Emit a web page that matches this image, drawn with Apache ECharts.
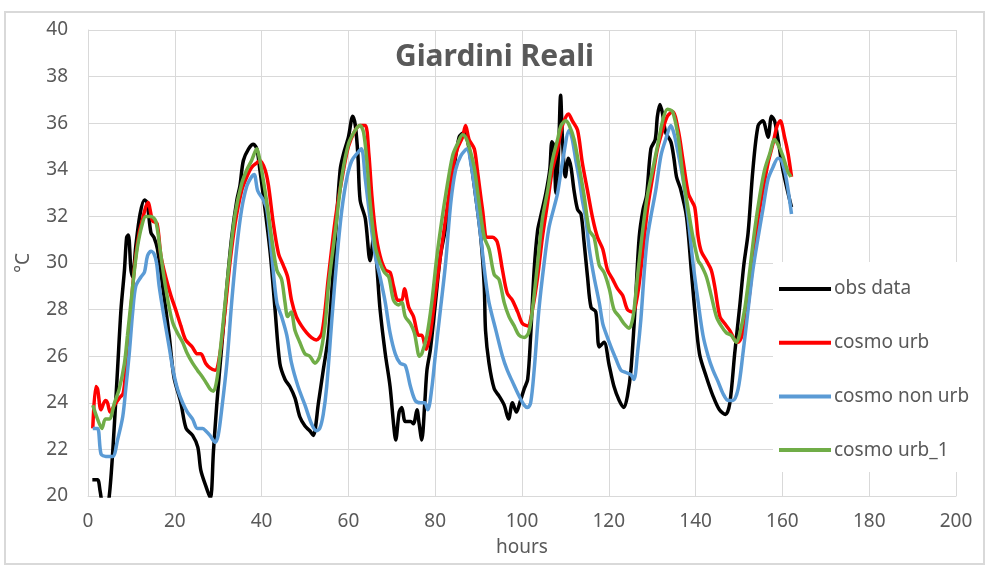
<!DOCTYPE html>
<html>
<head>
<meta charset="utf-8">
<title>Giardini Reali</title>
<script src="https://cdn.jsdelivr.net/npm/echarts@6/dist/echarts.min.js"></script>
<style>
  html, body { margin: 0; padding: 0; background: #ffffff; }
  #chart { width: 989px; height: 570px; }
</style>
</head>
<body>
<div id="chart"></div>
<script>
// Hourly air temperature at Giardini Reali: observations vs. COSMO runs
const seriesNames = ['obs data', 'cosmo urb', 'cosmo non urb', 'cosmo urb_1'];
const seriesColors = ['#000000', '#ff0000', '#5b9bd5', '#70ad47'];

const xTicks = [0, 20, 40, 60, 80, 100, 120, 140, 160, 180, 200];
const yTicks = [20, 22, 24, 26, 28, 30, 32, 34, 36, 38, 40];

const obsHours = [1.0,2.2,2.8,3.5,4.3,4.9,5.7,6.8,7.6,8.4,8.9,9.3,9.9,10.3,11.0,12.0,13.0,13.6,14.5,15.2,16.0,17.5,18.7,19.8,21.4,22.6,24.1,25.3,26.0,27.2,28.2,28.9,29.7,30.8,32.0,33.1,34.3,35.0,35.8,37.0,38.1,38.9,39.6,40.8,42.0,43.1,44.2,45.4,46.5,47.7,48.8,50.0,51.1,51.9,53.1,54.2,55.4,57.0,58.1,58.9,60.0,61.0,61.6,62.2,62.7,63.9,65.0,65.8,67.3,68.5,69.6,70.4,70.9,71.7,72.3,73.1,74.3,75.0,75.8,76.3,76.9,77.6,78.1,78.9,80.0,81.2,82.5,84.0,85.5,86.7,87.4,88.2,89.3,90.5,91.3,91.6,92.4,93.6,94.7,95.9,96.9,97.8,98.7,99.5,100.5,101.3,102.0,102.8,103.6,104.3,105.5,106.4,106.9,107.4,107.8,108.4,108.9,109.3,110.0,110.7,111.3,112.0,112.8,113.6,114.3,115.1,115.9,117.0,117.8,118.9,120.1,121.2,122.4,123.5,124.3,125.1,126.1,127.0,127.9,128.7,129.7,130.7,131.2,131.8,132.4,133.1,134.3,135.0,135.6,136.5,137.9,139.0,139.8,140.9,142.5,144.0,145.5,146.9,147.9,149.0,150.2,151.1,152.1,153.2,154.4,155.5,156.7,157.5,158.2,159.0,160.1,161.3,162.1];
const obsTemps = [20.7,20.7,20.2,19.6,19.6,20.0,21.9,25.4,28.0,29.7,31.1,31.2,29.7,29.4,30.7,32.1,32.7,32.6,31.3,31.1,30.6,28.6,26.9,25.1,24.0,22.9,22.6,22.1,21.1,20.4,19.9,21.9,24.0,26.4,29.0,31.1,32.7,33.3,34.4,34.9,35.1,34.9,34.0,32.3,30.4,28.0,25.7,25.0,24.7,24.2,23.4,23.0,22.8,22.6,24.0,25.4,26.9,31.1,34.0,34.7,35.4,36.3,35.9,34.6,32.7,31.9,30.1,31.1,28.0,26.1,24.7,23.1,22.4,23.6,23.8,23.2,23.2,23.1,23.7,23.1,22.4,24.0,25.4,26.3,28.2,30.3,31.6,33.6,35.4,35.6,35.3,34.4,32.9,31.1,29.0,27.1,25.7,24.6,24.3,23.9,23.3,24.0,23.6,24.0,24.6,25.0,26.9,29.7,31.4,32.0,33.0,34.0,35.2,35.0,33.0,34.7,37.2,35.4,33.7,34.5,34.1,33.1,32.3,32.1,30.9,29.4,28.1,27.9,26.4,26.6,25.6,24.7,24.1,23.8,24.3,25.4,28.2,31.1,32.3,32.9,34.9,35.3,36.3,36.8,36.4,35.6,35.2,34.5,33.7,33.2,32.0,29.7,28.0,26.1,25.1,24.3,23.7,23.5,24.0,26.1,28.2,29.9,31.3,34.0,35.9,36.1,35.4,36.3,36.1,35.3,34.0,33.0,32.4];

const urbHours = [1.1,1.8,2.2,3.0,4.0,4.5,5.1,6.1,7.2,8.1,8.7,9.5,10.3,11.0,11.8,12.6,13.3,13.9,14.3,14.9,15.9,16.8,17.9,19.1,20.2,21.4,22.5,24.0,25.2,26.0,27.1,28.1,29.3,30.4,31.6,32.7,33.9,35.4,36.6,37.7,38.9,39.6,40.8,41.6,42.7,43.9,45.0,46.0,46.9,48.0,49.2,50.4,51.5,52.6,53.9,55.4,57.0,58.5,60.0,61.6,62.7,63.9,64.7,65.4,66.2,67.3,68.5,69.6,70.4,71.4,72.3,72.9,73.9,75.0,76.2,76.9,77.9,78.9,80.0,81.2,82.4,84.0,85.1,86.3,87.0,87.8,89.0,89.7,90.9,92.0,93.2,94.3,95.5,96.6,97.8,99.0,100.1,101.3,102.4,103.6,104.7,105.9,107.0,108.2,109.3,110.7,111.6,112.8,113.9,115.1,116.3,117.4,118.6,119.7,120.9,122.0,123.2,124.3,125.5,126.6,127.8,128.9,130.1,131.2,132.4,133.5,134.7,136.0,137.1,138.3,139.0,139.8,140.6,141.3,142.5,143.6,144.4,145.6,146.7,147.9,149.0,149.8,150.9,152.1,153.2,154.4,155.5,156.7,157.8,158.8,159.5,160.5,161.3,162.1];
const urbTemps = [22.9,24.7,24.6,23.7,24.1,24.0,23.6,23.9,24.2,24.4,25.4,27.1,29.0,30.3,31.3,31.9,32.4,32.6,32.3,31.8,31.7,30.3,29.4,28.6,28.0,27.3,26.7,26.4,26.1,26.1,25.7,25.5,25.4,26.1,28.0,30.0,31.7,33.1,33.7,34.1,34.3,34.4,34.0,33.3,31.7,30.4,29.9,29.4,28.4,27.7,27.3,27.0,26.8,26.7,27.0,29.4,31.9,33.6,35.0,35.7,35.9,35.9,34.7,32.9,31.4,30.3,29.7,29.6,29.0,28.4,28.4,28.9,28.1,27.7,26.9,26.9,26.3,27.0,28.6,30.3,31.9,34.0,34.9,35.4,35.9,35.3,34.9,34.0,32.3,31.1,31.1,30.9,29.7,28.7,28.4,27.9,27.4,27.3,28.0,29.4,31.1,32.6,34.0,34.9,35.9,36.4,36.1,35.7,34.3,33.1,31.9,31.1,30.6,29.7,29.3,28.9,28.6,28.0,27.9,28.6,30.4,32.3,33.7,34.9,35.7,36.3,36.5,35.7,34.4,33.0,32.7,32.4,31.1,30.5,30.1,29.7,29.0,27.7,27.4,27.1,26.7,26.6,27.0,28.2,30.0,31.9,33.1,34.3,35.1,35.9,36.1,35.4,34.7,33.7];

const nonUrbHours = [1.1,2.2,3.0,4.1,5.7,6.8,8.0,8.7,9.5,10.3,11.0,12.2,13.0,13.7,14.5,15.2,15.8,16.4,17.5,18.7,19.6,20.6,21.8,22.9,24.1,25.2,26.4,27.1,28.1,29.3,30.0,30.8,32.0,33.1,34.3,35.4,36.6,37.7,38.3,39.1,40.4,41.2,42.3,43.5,44.6,45.8,46.9,48.4,50.0,51.5,52.6,53.4,54.2,55.0,56.2,57.4,58.5,59.7,60.8,62.0,63.0,63.9,65.0,66.2,67.3,68.5,69.6,70.8,71.9,73.1,74.3,75.4,76.6,77.6,78.3,79.2,80.0,81.2,82.4,83.6,84.7,85.9,87.4,88.2,89.3,90.5,91.6,92.4,94.0,95.5,96.6,97.8,99.3,100.5,101.3,102.0,102.8,103.9,105.1,106.2,107.4,108.2,109.3,110.9,111.6,112.4,113.2,113.9,114.7,115.5,116.6,117.8,118.6,119.3,120.5,121.6,122.8,123.9,125.1,125.8,126.6,127.4,128.2,128.9,129.7,130.8,132.0,133.1,134.3,135.1,136.0,137.1,138.3,139.4,140.6,141.7,142.9,144.0,145.2,146.3,147.5,148.6,149.8,150.9,152.1,153.2,154.4,155.5,156.7,157.8,159.0,159.8,160.9,162.1];
const nonUrbTemps = [22.9,22.9,21.8,21.7,21.7,22.4,23.4,24.6,26.1,27.9,29.0,29.4,29.6,30.3,30.5,30.4,30.0,29.0,27.7,26.4,25.4,24.6,24.0,23.6,23.3,22.9,22.9,22.8,22.6,22.3,22.6,23.7,25.7,28.3,30.7,32.3,33.3,33.7,33.8,33.1,32.7,32.3,30.4,28.3,27.7,26.9,25.7,24.7,23.9,23.1,22.8,22.9,23.5,24.7,27.6,30.3,32.3,33.7,34.4,34.7,34.9,33.6,31.9,30.3,29.4,28.3,27.0,26.1,25.7,25.6,24.7,24.1,24.0,24.0,23.7,24.6,26.0,28.0,30.0,32.6,34.0,34.6,34.9,34.3,32.9,31.1,29.3,28.3,27.1,26.0,25.4,24.9,24.3,23.9,23.8,24.0,25.4,28.0,30.0,31.5,32.4,33.0,34.3,35.7,35.3,34.4,33.6,32.7,31.9,30.6,29.4,28.3,27.4,27.0,26.4,25.9,25.4,25.3,25.2,25.0,26.1,27.6,29.7,31.1,32.0,33.1,34.6,35.3,35.9,35.5,34.7,33.6,31.9,30.0,28.3,26.9,26.0,25.4,24.9,24.4,24.1,24.1,24.6,26.1,28.0,29.7,31.1,32.3,33.6,34.1,34.5,34.4,33.6,32.1];

const urb1Hours = [1.1,2.2,3.2,4.0,4.9,6.1,7.2,8.4,9.1,9.9,10.7,11.4,12.4,13.3,14.5,15.6,16.6,17.5,18.7,19.6,20.6,21.8,22.9,24.1,25.2,26.4,27.1,28.1,28.9,29.7,30.4,31.6,32.7,33.9,35.4,36.6,37.7,38.9,39.4,40.0,41.2,42.3,43.5,44.6,45.4,46.0,46.8,47.7,48.8,50.0,51.1,52.3,53.4,54.6,55.4,57.0,58.5,60.0,61.6,62.7,63.5,64.3,65.0,66.2,67.3,68.3,69.3,70.4,71.5,72.3,73.1,74.3,75.2,75.8,76.3,76.9,78.1,79.2,80.4,81.5,82.4,84.0,85.1,86.3,87.0,87.8,89.0,90.1,91.3,92.4,93.6,94.7,95.9,97.0,98.2,99.3,100.5,101.5,102.4,103.6,104.7,105.9,107.0,108.2,109.0,110.1,110.9,112.0,113.2,114.3,115.5,116.6,117.8,118.9,120.1,121.2,122.4,123.5,124.7,125.6,126.6,127.8,128.9,130.1,131.2,132.4,133.5,134.7,136.0,137.1,138.3,139.4,140.6,141.3,142.5,143.6,144.8,145.9,147.1,148.2,149.4,150.1,151.3,152.5,153.6,154.8,155.9,157.1,158.2,159.2,160.1,161.3,162.0];
const urb1Temps = [23.9,23.3,22.9,23.3,23.3,24.0,24.6,25.7,26.9,28.3,29.7,30.7,31.6,32.0,32.0,31.8,30.6,29.4,28.1,27.4,27.0,26.6,26.1,25.7,25.4,25.1,24.9,24.6,24.5,25.0,26.1,28.3,30.3,32.1,33.4,34.0,34.4,34.9,34.6,34.0,32.6,31.1,29.7,29.3,28.3,27.7,27.9,27.1,26.6,26.1,26.0,25.7,26.0,27.3,29.0,31.4,33.7,35.1,35.7,35.9,35.6,34.3,32.6,30.7,30.0,29.6,29.4,28.4,28.2,28.3,27.7,27.4,27.0,26.4,26.0,26.1,26.9,28.3,30.3,31.8,32.9,34.6,35.1,35.5,35.4,35.0,34.1,32.6,31.1,30.6,29.5,29.3,28.3,27.7,27.3,26.9,26.8,27.0,28.0,30.0,31.9,33.1,34.4,35.3,35.9,36.1,35.9,35.3,34.1,32.9,31.4,31.1,29.9,29.6,28.9,28.0,27.7,27.4,27.2,27.7,29.4,31.4,32.9,34.0,35.0,36.1,36.6,36.5,35.4,33.7,32.3,31.1,30.1,29.9,29.4,28.6,27.7,27.3,27.0,26.9,26.6,26.9,28.0,29.7,31.4,32.9,34.0,34.7,35.3,35.0,34.6,33.9,33.7];

const hourLists = [obsHours, urbHours, nonUrbHours, urb1Hours];
const tempLists = [obsTemps, urbTemps, nonUrbTemps, urb1Temps];

const textGrey = '#595959';
const gridGrey = '#d9d9d9';
const fontFamily = "'Noto Sans', 'Open Sans', sans-serif";

function pairUp(hours, temps) {
  return hours.map((h, i) => [h, temps[i]]);
}

const chart = echarts.init(document.getElementById('chart'), null, { renderer: 'canvas' });

chart.setOption({
  animation: false,
  backgroundColor: '#ffffff',
  textStyle: { fontFamily: fontFamily },
  title: {
    text: 'Giardini Reali',
    left: 'center',
    top: 37,
    textStyle: { fontSize: 30, fontWeight: 'bold', color: textGrey, fontFamily: fontFamily }
  },
  graphic: [{
    type: 'rect',
    shape: { x: 5, y: 12, width: 979, height: 552 },
    style: { fill: 'none', stroke: gridGrey, lineWidth: 2 },
    silent: true,
    z: -1
  }],
  grid: { left: 88, right: 33, top: 30, bottom: 74, containLabel: false },
  legend: {
    orient: 'vertical',
    left: 773,
    top: 262,
    width: 212,
    backgroundColor: '#ffffff',
    padding: [17, 12, 12, 6],
    itemGap: 33.7,
    itemWidth: 52,
    itemHeight: 4,
    icon: 'rect',
    textStyle: { fontSize: 19, lineHeight: 20, color: textGrey, fontFamily: fontFamily, padding: [0, 0, 0, -2] },
    data: seriesNames
  },
  xAxis: {
    type: 'value',
    min: xTicks[0],
    max: xTicks[xTicks.length - 1],
    interval: xTicks[1] - xTicks[0],
    name: 'hours',
    nameLocation: 'middle',
    nameGap: 42,
    nameTextStyle: { fontSize: 19, color: textGrey, fontFamily: fontFamily },
    axisLine: { show: true, lineStyle: { color: gridGrey, width: 1 } },
    axisTick: { show: false },
    axisLabel: { fontSize: 19, color: textGrey, margin: 16, fontFamily: fontFamily },
    splitLine: { show: true, lineStyle: { color: gridGrey, width: 1 } }
  },
  yAxis: {
    type: 'value',
    min: yTicks[0],
    max: yTicks[yTicks.length - 1],
    interval: yTicks[1] - yTicks[0],
    name: '°C',
    nameLocation: 'middle',
    nameGap: 55,
    nameRotate: 90,
    nameTextStyle: { fontSize: 19, color: textGrey, fontFamily: fontFamily },
    axisLine: { show: true, lineStyle: { color: gridGrey, width: 1 } },
    axisTick: { show: false },
    axisLabel: { fontSize: 19, color: textGrey, margin: 20, fontFamily: fontFamily },
    splitLine: { show: true, lineStyle: { color: gridGrey, width: 1 } }
  },
  series: seriesNames.map((name, i) => ({
    name: name,
    type: 'line',
    data: pairUp(hourLists[i], tempLists[i]),
    showSymbol: false,
    symbol: 'none',
    smooth: 0.3,
    clip: true,
    lineStyle: { color: seriesColors[i], width: 3.5 },
    itemStyle: { color: seriesColors[i] },
    z: 2 + i
  }))
});
</script>
</body>
</html>
